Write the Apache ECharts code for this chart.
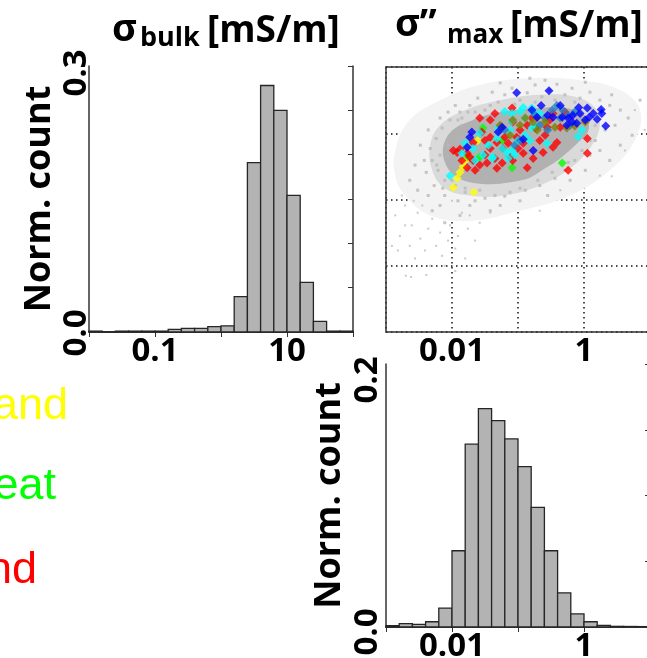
<!DOCTYPE html>
<html><head><meta charset="utf-8">
<script src="https://cdn.jsdelivr.net/npm/echarts@6/dist/echarts.min.js"></script>
<style>html,body{margin:0;padding:0;background:#fff}#c{width:647px;height:658px}</style>
</head><body><div id="c"></div><script>
// ---------- DATA ----------
// histogram of sigma_bulk (bin edges as log10 of mS/m, normalized counts)
const bulkBinEdgesLog10 = [-2.0,-1.8,-1.6,-1.4,-1.2,-1.0,-0.8,-0.6,-0.4,-0.2,0.0,0.2,0.4,0.6,0.8,1.0,1.2,1.4,1.6,1.8,2.0];
const bulkCounts = [0.001,0.0,0.001,0.001,0.001,0.001,0.003,0.004,0.004,0.006,0.007,0.040,0.191,0.278,0.250,0.154,0.056,0.012,0.001,0.001];
// histogram of sigma''_max
const imagBinEdgesLog10 = [-3.0,-2.8,-2.6,-2.4,-2.2,-2.0,-1.8,-1.6,-1.4,-1.2,-1.0,-0.8,-0.6,-0.4,-0.2,0.0,0.2,0.4,0.6,0.8,1.0];
const imagCounts = [0.001,0.0025,0.002,0.004,0.0144,0.058,0.139,0.166,0.157,0.143,0.122,0.091,0.058,0.026,0.010,0.004,0.0013,0.0005,0.0004,0.0003];

// tick labels
const bulkXTickValues = [0.1, 10];
const bulkXTickLabels = ['0.1', '10'];
const imagXTickValues = [0.01, 1];
const imagXTickLabels = ['0.01', '1'];
const bulkYTickValues = [0, 0.3];
const bulkYTickLabels = ['0.0', '0.3'];
const imagYTickValues = [0, 0.2];
const imagYTickLabels = ['0.0', '0.2'];

// scatter (x = sigma''_max, y = sigma_bulk), points given as [log10 x, log10 y]
const grayOuterOutlineLog = [[-2.86,0.74],[-2.64,1.20],[-2.18,1.50],[-1.58,1.73],[-0.82,1.83],[-0.06,1.80],[0.55,1.65],[0.85,1.35],[0.77,0.89],[0.39,0.44],[-0.21,0.06],[-0.97,-0.17],[-1.73,-0.32],[-2.33,-0.24],[-2.71,0.06],[-2.86,0.36]];
const grayMidOutlineLog = [[-2.18,1.12],[-1.80,1.35],[-1.27,1.50],[-0.67,1.58],[-0.14,1.55],[0.17,1.38],[0.24,1.12],[0.12,0.82],[-0.21,0.47],[-0.67,0.21],[-1.20,0.06],[-1.73,0.06],[-2.11,0.17],[-2.30,0.44],[-2.33,0.82]];
const grayCoreOutlineLog = [[-1.95,1.08],[-1.73,1.18],[-1.58,1.24],[-1.27,1.32],[-0.97,1.36],[-0.59,1.39],[-0.29,1.38],[-0.06,1.32],[0.06,1.20],[0.06,1.02],[-0.09,0.86],[-0.36,0.62],[-0.59,0.47],[-0.82,0.33],[-1.12,0.26],[-1.42,0.23],[-1.73,0.26],[-1.95,0.35],[-2.09,0.52],[-2.14,0.74],[-2.08,0.94]];
const grayHaloLog = [[-1.73,1.42],[-1.61,1.53],[-1.50,1.35],[-1.39,1.62],[-1.30,1.47],[-1.20,1.58],[-1.09,1.68],[-0.97,1.50],[-0.86,1.61],[-0.74,1.73],[-0.64,1.55],[-0.52,1.65],[-0.41,1.74],[-0.29,1.58],[-0.18,1.68],[-0.06,1.53],[0.09,1.62],[0.24,1.50],[0.39,1.42],[0.55,1.35],[0.67,1.23],[0.47,1.12],[0.32,1.05],[0.17,0.89],[0.24,0.74],[0.09,0.67],[-0.14,0.59],[-0.29,0.44],[-0.44,0.32],[-0.67,0.21],[-0.89,0.14],[-1.12,0.11],[-1.35,0.06],[-1.58,0.14],[-1.80,0.17],[-1.95,0.21],[-2.11,0.29],[-2.21,0.44],[-2.30,0.59],[-2.33,0.77],[-2.24,0.92],[-2.15,1.08],[-2.03,1.20],[-1.88,1.32],[-2.18,1.23],[-2.36,1.05],[-2.48,0.82],[-2.42,0.59],[-2.39,0.41],[-2.27,0.21],[-2.11,0.06],[-1.91,-0.02],[-1.73,-0.09],[-2.18,-0.09],[-2.36,0.06],[-2.56,0.52],[-2.64,0.29],[-2.52,0.14],[-1.85,1.23],[-1.65,1.32],[-1.95,1.42],[-2.06,1.32],[-1.27,1.76],[-0.82,1.83],[-0.59,1.80],[0.02,1.77],[0.42,1.58],[0.85,1.50],[0.73,0.97],[0.55,0.82],[0.39,0.59],[0.02,0.44],[-0.21,0.29],[-0.55,0.06],[-0.97,-0.02],[-1.27,-0.09],[-1.42,-0.17],[-1.88,-0.24],[-2.11,-0.35],[-2.30,-0.17],[-1.85,1.12],[-2.06,0.82],[-2.18,0.67],[-2.00,0.29],[-1.80,0.11],[-1.50,0.02],[-1.20,0.05],[-0.97,0.17],[-0.70,0.29],[-0.48,0.41],[-0.24,0.56],[-0.03,0.74],[0.09,0.89],[0.17,1.12],[0.12,1.35],[-0.14,1.47],[-0.44,1.50],[-0.74,1.47],[-1.05,1.44],[-1.42,1.42],[-1.76,1.32],[-1.91,1.20],[-2.23,0.52],[-2.14,0.17],[-1.65,-0.02]];
const graySparseLog = [[-2.86,-0.24],[-2.79,-0.55],[-2.71,-0.09],[-2.64,-0.70],[-2.61,-0.39],[-2.52,-0.20],[-2.48,-0.59],[-2.41,-0.77],[-2.36,-0.44],[-2.30,-0.29],[-2.24,-0.70],[-2.18,-0.50],[-2.15,-0.85],[-2.06,-0.62],[-2.03,-0.39],[-1.95,-0.74],[-1.91,-0.55],[-1.85,-0.20],[-1.80,-0.89],[-2.82,-0.77],[-2.91,-0.70],[-2.56,-0.89],[-2.33,-1.00],[-2.11,-1.00],[-1.95,-1.08],[-2.70,-1.15],[-2.62,-1.17],[-2.39,-1.14],[-2.76,0.06],[-2.58,-0.02],[-2.00,-0.02],[-1.76,-0.44],[-1.65,-0.62],[-1.73,-0.24],[-1.58,-0.35],[-1.42,-0.20],[-2.71,-0.39],[-2.45,-0.09],[0.62,0.74],[0.24,0.36],[0.77,1.35],[0.42,0.35],[-0.36,0.14],[-0.67,-0.17],[0.92,1.05]];
const yellowLog = [[-1.98,0.18],[-1.92,0.32],[-1.88,0.41],[-1.83,0.50],[-1.67,0.11],[-1.80,0.59],[-1.61,0.89]];
const greenLog = [[-1.53,1.08],[-1.58,0.64],[-1.09,0.48],[-0.33,0.55],[-1.76,0.65],[-1.24,0.89]];
const redLog = [[-1.98,0.74],[-1.88,0.76],[-1.77,0.70],[-1.85,0.59],[-1.77,0.48],[-1.68,0.59],[-1.58,0.52],[-1.58,1.23],[-1.42,1.20],[-1.55,1.02],[-1.50,0.89],[-1.42,0.77],[-1.32,0.86],[-1.35,0.62],[-1.32,0.47],[-1.20,0.94],[-1.23,0.77],[-1.09,1.38],[-1.08,1.17],[-1.02,0.94],[-0.92,0.85],[-0.86,0.48],[-0.77,0.62],[-1.08,0.59],[-1.27,1.09],[-0.86,1.12],[-0.71,1.24],[-0.67,0.89],[-0.59,0.97],[-0.74,1.08],[-0.52,1.20],[-0.47,1.30],[-0.47,0.79],[-0.41,0.86],[-0.36,1.09],[-0.24,0.44],[0.05,0.92],[0.05,0.70],[-1.68,0.86],[-1.73,0.64],[-1.65,0.44],[-1.47,0.55],[-1.24,0.55],[-1.12,0.64],[-0.92,0.70],[-0.62,0.71],[-1.42,0.94],[-0.97,1.05],[-0.79,1.23],[-1.35,1.30],[-1.92,0.71],[-1.50,0.67],[-1.15,0.85],[-1.00,0.77],[-0.29,1.32],[-0.56,1.09]];
const cyanLog = [[-1.20,1.33],[-0.97,1.33],[-1.09,1.18],[-0.89,1.23],[-1.30,1.08],[-1.12,1.05],[-1.32,0.92],[-1.45,0.82],[-1.24,0.77],[-1.09,0.74],[-1.53,0.67],[-1.68,0.77],[-1.65,0.59],[-1.39,0.62],[-1.80,0.85],[-1.15,0.62],[-2.03,0.36],[-0.79,1.08],[-0.89,0.97],[-1.00,0.89],[-0.79,1.38],[-1.05,0.67],[-1.58,1.00],[-1.85,0.70],[-0.77,1.32],[-0.74,1.12],[-0.82,0.89],[-0.09,0.95],[-0.03,1.05],[-0.67,1.30],[-0.92,1.39],[-1.09,1.30],[-0.56,0.85],[-1.17,0.71],[-1.38,0.64]];
const steelLog = [[-0.41,1.42],[-0.32,1.35],[-0.24,1.27],[-0.36,1.23],[-0.14,1.32],[-0.48,1.35],[-0.59,1.23],[-0.67,1.12],[-0.74,1.27],[-0.97,0.89],[-1.05,0.82],[-1.20,1.05],[-0.55,1.05],[-0.21,1.12]];
const oliveLog = [[-1.08,1.20],[-0.97,1.12],[-0.89,1.23],[-0.77,1.17],[-0.71,1.05],[-0.26,1.08],[-0.14,1.11],[-0.44,1.09],[-1.27,1.12],[-1.12,0.97],[0.02,1.17],[-0.59,1.17]];
const blueLog = [[-1.02,1.61],[-0.53,1.64],[-0.65,1.42],[-0.79,1.35],[-0.36,1.42],[-0.08,1.39],[0.05,1.38],[0.14,1.30],[0.26,1.36],[0.27,1.30],[0.20,1.21],[0.33,1.11],[0.08,1.24],[0.02,1.20],[-0.17,1.27],[-0.24,1.23],[-0.18,1.17],[-0.11,1.15],[-0.26,1.12],[-0.55,1.27],[-0.71,1.24],[-0.92,0.91],[-0.77,0.74],[-1.24,1.09],[-1.70,1.02],[-1.73,0.94],[-1.77,0.79],[-1.30,1.02],[-0.06,1.30],[-0.33,1.24],[-0.47,1.24]];

// legend fragments (cut at left edge of the figure)
const legendTexts = ['and', 'eat', 'nd'];
const legendColors = ['#ffff00', '#00ff00', '#ff0000'];

// ---------- BUILD ----------
const toVal = arr => arr.map(p => [Math.pow(10, p[0]), Math.pow(10, p[1])]);
const toBins = (edges, counts) => counts.map((c, i) => [Math.pow(10, edges[i]), Math.pow(10, edges[i + 1]), c]);
const pick = (vals, labels, logAxis, richKeys) => v => {
  for (let i = 0; i < vals.length; i++) {
    const ok = logAxis ? Math.abs(Math.log10(v) - Math.log10(vals[i])) < 1e-6 : Math.abs(v - vals[i]) < 1e-9;
    if (ok) return richKeys ? '{' + richKeys[i] + '|' + labels[i] + '}' : labels[i];
  }
  return '';
};

const FONT = '"Open Sans", Lato, sans-serif';
const AX = '#333';
const lineAx = {show: true, lineStyle: {color: AX, width: 1.5}};
const dotted = {show: true, lineStyle: {color: '#111', width: 1.5, type: [1.5, 3.5]}};
const lblBase = {fontFamily: FONT, fontWeight: 'bold', fontSize: 33, color: '#000'};
const tickLabel = (fn, extra) => Object.assign({show: true, formatter: fn}, lblBase, extra || {});
const richLbl = shift => Object.assign({}, lblBase, {padding: [0, Math.max(0, 2 * shift), 0, Math.max(0, -2 * shift)]});

function histRender(params, api) {
  const p0 = api.coord([api.value(0), api.value(2)]);
  const p1 = api.coord([api.value(1), 0]);
  return {type: 'rect', shape: {x: p0[0], y: p0[1], width: p1[0] - p0[0], height: p1[1] - p0[1]},
    style: {fill: '#b3b3b3', stroke: '#262626', lineWidth: 1.3}};
}
const zoneRender = (outline, fill, smooth) => function (params, api) {
  if (params.dataIndex !== 0) return null;
  const pts = toVal(outline).map(p => api.coord(p));
  return {type: 'polygon', shape: {points: pts, smooth}, style: {fill}};
};

const chart = echarts.init(document.getElementById('c'), null, {renderer: 'canvas'});
const nameStyle = {fontFamily: FONT, fontWeight: 'bold', fontSize: 36, color: '#000'};

const scatter = (name, data, color, z) => ({
  type: 'scatter', name, xAxisIndex: 2, yAxisIndex: 2, data: toVal(data), symbol: 'diamond', symbolSize: 9,
  itemStyle: {color}, z, silent: true
});
const zone = (outline, fill, smooth) => ({
  type: 'custom', xAxisIndex: 2, yAxisIndex: 2, data: toVal(outline), encode: {x: 0, y: 1},
  renderItem: zoneRender(outline, fill, smooth), silent: true, z: 2
});

const option = {
  animation: false,
  backgroundColor: '#fff',
  grid: [
    {left: 89, top: 66, width: 264, height: 266, outerBoundsMode: 'none'},
    {left: 386, top: 67, width: 264, height: 265, outerBoundsMode: 'none'},
    {left: 386, top: 364, width: 264, height: 263, outerBoundsMode: 'none'}
  ],
  xAxis: [
    {gridIndex: 0, type: 'log', logBase: 10, min: 0.01, max: 100, position: 'bottom', axisLine: lineAx, axisTick: {show: false}, splitLine: {show: false},
      axisLabel: tickLabel(pick(bulkXTickValues, bulkXTickLabels, true), {margin: 3})},
    {gridIndex: 0, type: 'log', logBase: 10, min: 0.01, max: 100, position: 'top', axisLine: lineAx, axisTick: {show: true, inside: true, length: 5, lineStyle: {color: AX}}, axisLabel: {show: false}, splitLine: {show: false}},
    {gridIndex: 1, type: 'log', logBase: 10, min: 0.001, max: 10, position: 'bottom', axisLine: lineAx, axisTick: {show: false}, splitLine: dotted,
      axisLabel: tickLabel(pick(imagXTickValues, imagXTickLabels, true), {margin: 3})},
    {gridIndex: 1, type: 'log', logBase: 10, min: 0.001, max: 10, position: 'top', axisLine: lineAx, axisTick: {show: false}, axisLabel: {show: false}, splitLine: {show: false}},
    {gridIndex: 2, type: 'log', logBase: 10, min: 0.001, max: 10, position: 'bottom', axisLine: lineAx, axisTick: {show: false}, splitLine: {show: false},
      axisLabel: tickLabel(pick(imagXTickValues, imagXTickLabels, true), {margin: 3})},
    {gridIndex: 2, type: 'log', logBase: 10, min: 0.001, max: 10, position: 'top', axisLine: lineAx, axisTick: {show: true, inside: true, length: 5, lineStyle: {color: AX}}, axisLabel: {show: false}, splitLine: {show: false}}
  ],
  yAxis: [
    {gridIndex: 0, type: 'value', min: 0, max: 0.3, interval: 0.05, position: 'left', axisLine: lineAx, axisTick: {show: false}, splitLine: {show: false},
      axisLabel: tickLabel(pick(bulkYTickValues, bulkYTickLabels, false, ['lo', 'hi']), {rotate: 90, margin: -4, rich: {lo: richLbl(1), hi: richLbl(7)}}),
      name: 'Norm. count', nameLocation: 'middle', nameRotate: 90, nameGap: 31, nameTextStyle: nameStyle},
    {gridIndex: 0, type: 'value', min: 0, max: 0.3, interval: 0.05, position: 'right', axisLine: lineAx, axisTick: {show: true, inside: true, length: 5, lineStyle: {color: AX}}, axisLabel: {show: false}, splitLine: {show: false}},
    {gridIndex: 1, type: 'log', logBase: 10, min: 0.01, max: 100, position: 'left', axisLine: lineAx, axisTick: {show: false}, axisLabel: {show: false}, splitLine: dotted},
    {gridIndex: 1, type: 'log', logBase: 10, min: 0.01, max: 100, position: 'right', axisLine: lineAx, axisTick: {show: false}, axisLabel: {show: false}, splitLine: {show: false}},
    {gridIndex: 2, type: 'value', min: 0, max: 0.2, interval: 0.05, position: 'left', axisLine: lineAx, axisTick: {show: false}, splitLine: {show: false},
      axisLabel: tickLabel(pick(imagYTickValues, imagYTickLabels, false, ['lo', 'hi']), {rotate: 90, margin: 2, rich: {lo: richLbl(5), hi: richLbl(16)}}),
      name: 'Norm. count', nameLocation: 'middle', nameRotate: 90, nameGap: 38, nameTextStyle: nameStyle},
    {gridIndex: 2, type: 'value', min: 0, max: 0.2, interval: 0.05, position: 'right', axisLine: lineAx, axisTick: {show: true, inside: true, length: 5, lineStyle: {color: AX}}, axisLabel: {show: false}, splitLine: {show: false}}
  ],
  graphic: [
    {type: 'text', left: 112, top: 11, style: {text: 'σ', font: 'bold 38px ' + FONT, fill: '#000'}},
    {type: 'text', left: 140, top: 25, style: {text: 'bulk', font: 'bold 27px ' + FONT, fill: '#000'}},
    {type: 'text', left: 207, top: 13, style: {text: '[mS/m]', font: 'bold 37px ' + FONT, fill: '#000'}},
    {type: 'text', left: 395, top: 6, style: {text: 'σ\u201D', font: 'bold 38px ' + FONT, fill: '#000'}},
    {type: 'text', left: 447, top: 23, style: {text: 'max', font: 'bold 26px ' + FONT, fill: '#000'}},
    {type: 'text', left: 510, top: 8, style: {text: '[mS/m]', font: 'bold 37px ' + FONT, fill: '#000'}},
    {type: 'text', right: 647 - 68, top: 384, style: {text: legendTexts[0], font: '45px "Liberation Sans", Arial, sans-serif', fill: legendColors[0]}},
    {type: 'text', right: 647 - 56, top: 464, style: {text: legendTexts[1], font: '45px "Liberation Sans", Arial, sans-serif', fill: legendColors[1]}},
    {type: 'text', right: 647 - 37, top: 548, style: {text: legendTexts[2], font: '45px "Liberation Sans", Arial, sans-serif', fill: legendColors[2]}}
  ],
  series: [
    {type: 'custom', xAxisIndex: 0, yAxisIndex: 0, data: toBins(bulkBinEdgesLog10, bulkCounts), encode: {x: [0, 1], y: 2}, renderItem: histRender, silent: true},
    {type: 'custom', xAxisIndex: 4, yAxisIndex: 4, data: toBins(imagBinEdgesLog10, imagCounts), encode: {x: [0, 1], y: 2}, renderItem: histRender, silent: true},
    zone(grayOuterOutlineLog, '#f3f3f3', 0.4),
    zone(grayMidOutlineLog, '#dadada', 0.4),
    {type: 'scatter', xAxisIndex: 2, yAxisIndex: 2, data: toVal(graySparseLog), symbol: 'rect', symbolSize: 2, itemStyle: {color: '#bdbdbd'}, silent: true, z: 2},
    {type: 'scatter', xAxisIndex: 2, yAxisIndex: 2, data: toVal(grayHaloLog), symbol: 'rect', symbolSize: 3, itemStyle: {color: '#b8b8b8'}, silent: true, z: 2},
    zone(grayCoreOutlineLog, '#b1b1b1', 0.35),
    scatter('yellow', yellowLog, '#ffff00', 3),
    scatter('green', greenLog, '#00ff00', 3),
    scatter('red', redLog, '#ff0000', 4),
    scatter('cyan', cyanLog, '#00ffff', 5),
    scatter('steel', steelLog, '#1f7fc4', 6),
    scatter('olive', oliveLog, '#808000', 6),
    scatter('blue', blueLog, '#0000ff', 7)
  ]
};
chart.setOption(option);
</script></body></html>
